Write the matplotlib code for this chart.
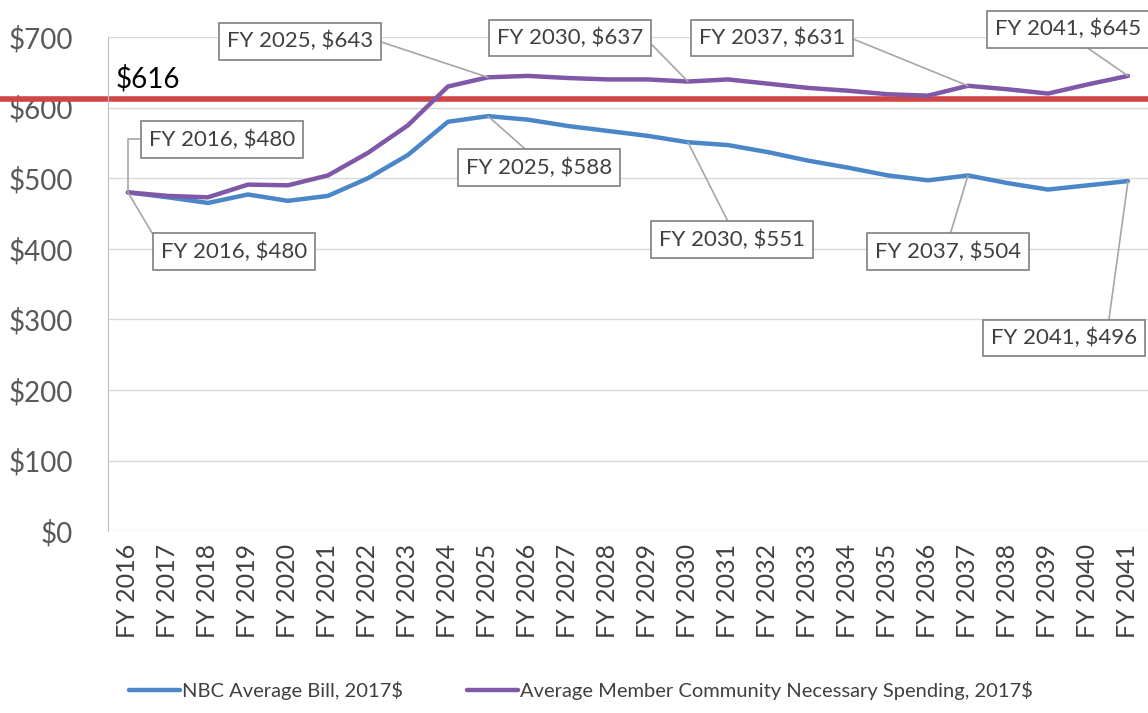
import matplotlib
matplotlib.use("Agg")
import matplotlib.pyplot as plt

plt.rcParams['font.family'] = ['Lato', 'DejaVu Sans']

years = ["FY %d" % y for y in range(2016, 2042)]
nbc_bill = [480, 473, 465, 477, 468, 475, 500, 533, 580, 588, 583, 574, 567, 560,
            551, 547, 537, 525, 515, 504, 497, 504, 493, 484, 490, 496]
member_spending = [480, 475, 473, 491, 490, 504, 536, 575, 630, 643, 645, 642, 640, 640,
                   637, 640, 634, 628, 624, 619, 617, 631, 626, 620, 633, 645]
threshold = 612
threshold_label = "$616"
yticks = [0, 100, 200, 300, 400, 500, 600, 700]

# (year index, text x, text y, leader attach point on box) for the callouts
callouts_member = [(0, 2.35, 555, (0, 0.5)), (9, 4.3, 694, (1, 0.6)), (14, 11.05, 699, (1, 0.6)),
                   (21, 16.1, 699, (1, 0.6)), (25, 23.5, 711, (0.55, 0))]
callouts_nbc = [(0, 2.65, 396, (0, 0.7)), (9, 10.28, 515, (0.47, 1)), (14, 15.1, 413, (0.5, 1)),
                (21, 20.5, 396, (0.5, 1)), (25, 23.4, 274, (0.8, 1))]

fig = plt.figure(figsize=(11.48, 7.13), dpi=100)
ax = fig.add_axes([0.094, 0.255, 0.906, 0.693])

x = list(range(len(years)))
blue = "#4a86c8"
purple = "#7f58a8"
ax.plot(x, nbc_bill, color=blue, lw=3.2, label="NBC Average Bill, 2017$", solid_capstyle='round')
ax.plot(x, member_spending, color=purple, lw=3.2,
        label="Average Member Community Necessary Spending, 2017$", solid_capstyle='round')

ax.axhline(threshold, xmin=-0.104, xmax=1.0, color="#d04545", lw=4, clip_on=False, zorder=1)
ax.text(-0.3, threshold + 10, threshold_label, fontsize=20, color="black", va="bottom", ha="left")

ax.set_xlim(-0.5, 25.5)
ax.set_ylim(0, 700)
ax.set_yticks(yticks)
ax.set_yticklabels(["$%d" % v for v in yticks], fontsize=20, color="#595959")
ax.set_xticks(x)
ax.set_xticklabels(years, rotation=90, fontsize=18, color="#404040")
ax.tick_params(axis='x', length=0, pad=9)
ax.tick_params(axis='y', length=0, pad=25)
ax.grid(axis='y', color="#d9d9d9", lw=1)
ax.set_axisbelow(True)
for s in ["top", "right", "bottom"]:
    ax.spines[s].set_visible(False)
ax.spines["left"].set_color("#bfbfbf")

def callout(i, tx, ty, rel, series):
    conn = "angle,angleA=0,angleB=90,rad=0" if i == 0 and rel == (0, 0.5) else "arc3"
    ax.annotate("%s, $%d" % (years[i], series[i]), xy=(i, series[i]), xytext=(tx, ty),
                fontsize=16, color="#404040", ha="center", va="center",
                bbox=dict(boxstyle="square,pad=0.36", fc="white", ec="#7f7f7f", lw=1.2),
                arrowprops=dict(arrowstyle="-", color="#a6a6a6", lw=1.2, relpos=rel,
                                connectionstyle=conn, shrinkA=0, shrinkB=0),
                annotation_clip=False, zorder=5)

for i, tx, ty, rel in callouts_member:
    callout(i, tx, ty, rel, member_spending)
for i, tx, ty, rel in callouts_nbc:
    callout(i, tx, ty, rel, nbc_bill)

fig.legend(loc="center left", bbox_to_anchor=(0.097, 0.032), ncol=2, frameon=False,
           fontsize=14.5, handlelength=2.5, handletextpad=0.1, columnspacing=3.2,
           labelcolor="#404040")

fig.savefig("out.png", dpi=100)
